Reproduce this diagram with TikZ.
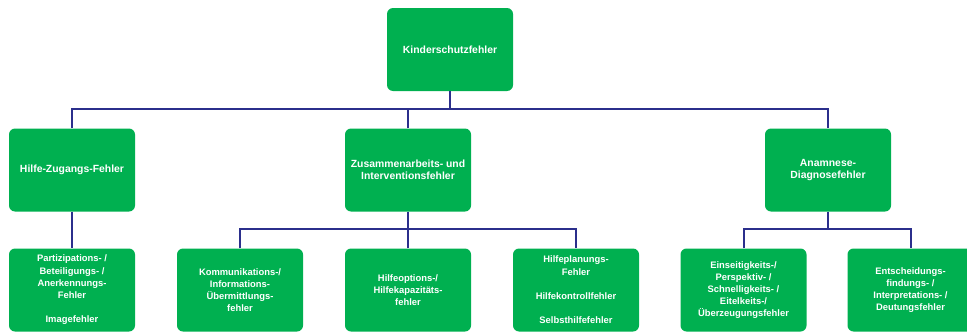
\documentclass[tikz,border=0pt]{standalone}
\usepackage{fontspec}
\setmainfont{Liberation Sans}
\definecolor{boxgreen}{HTML}{00B050}
\definecolor{linenavy}{HTML}{2B2F8C}
\begin{document}
\begin{tikzpicture}[x=1pt,y=-1pt,
  box/.style={fill=boxgreen, draw=none, rounded corners=6pt, minimum width=126pt, minimum height=83pt,
    inner sep=2pt, align=center, text=white, font=\fontsize{10.4}{12}\selectfont\bfseries},
  lowbox/.style={box, font=\fontsize{9.4}{12.2}\selectfont\bfseries},
  conn/.style={draw=linenavy, line width=2pt}]
\useasboundingbox (0,0) rectangle (967,332);
% nodes
\node[box] (root) at (450,49.5) {Kinderschutzfehler};
\node[box] (hz) at (72,170) {Hilfe-Zugangs-Fehler};
\node[box] (zi) at (408,170) {Zusammenarbeits- und\\Interventionsfehler};
\node[box] (ad) at (828,170) {Anamnese-\\Diagnosefehler};
\node[lowbox] (pb) at (72,290) {Partizipations- /\\Beteiligungs- /\\Anerkennungs-\\Fehler\\[12.2pt]Imagefehler};
\node[lowbox] (ki) at (240,290) {Kommunikations-/\\Informations-\\Übermittlungs-\\fehler};
\node[lowbox] (ho) at (408,290) {Hilfeoptions-/\\Hilfekapazitäts-\\fehler};
\node[lowbox] (hp) at (576,290) {Hilfeplanungs-\\Fehler\\[12.2pt]Hilfekontrollfehler\\[12.2pt]Selbsthilfefehler};
\node[lowbox] (es) at (743.5,290) {Einseitigkeits-/\\Perspektiv- /\\Schnelligkeits- /\\Eitelkeits-/\\Überzeugungsfehler};
\node[lowbox] (ent) at (910.5,290) {Entscheidungs-\\findungs- /\\Interpretations- /\\Deutungsfehler};
% bus coordinates
\coordinate (b1) at (450,109);
\coordinate (b2) at (408,229);
\coordinate (b3) at (828,229);
% connectors
\draw[conn] (root.south) -- (b1);
\draw[conn] (hz.north) |- (b1) -| (ad.north);
\draw[conn] (zi.north) -- (zi.north |- b1);
\draw[conn] (hz.south) -- (pb.north);
\draw[conn] (zi.south) -- (b2);
\draw[conn] (ki.north) |- (b2) -| (hp.north);
\draw[conn] (ho.north) -- (ho.north |- b2);
\draw[conn] (ad.south) -- (b3);
\draw[conn] (es.north) |- (b3) -| (ent.north);
\end{tikzpicture}
\end{document}
